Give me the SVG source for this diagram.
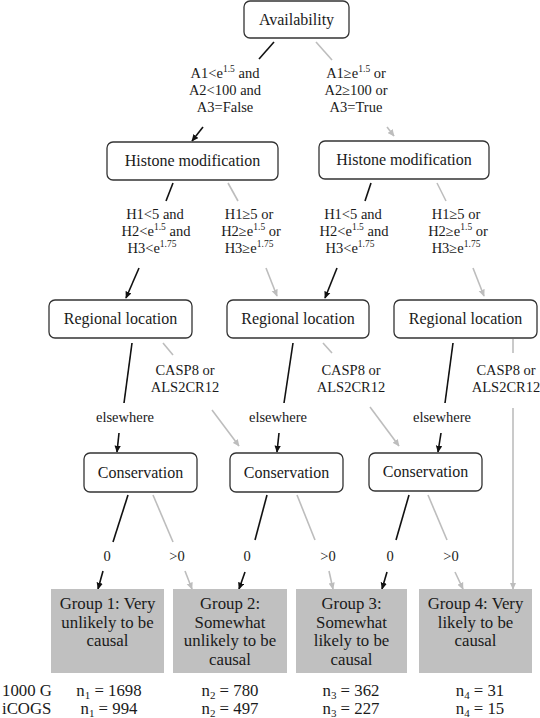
<svg xmlns="http://www.w3.org/2000/svg" width="540" height="718" viewBox="0 0 540 718" font-family="Liberation Serif">
<style>
.node{fill:#fff;stroke:#333;stroke-width:1.3}
.grp{fill:#c0c0c0;stroke:none}
.bk{stroke:#111;stroke-width:1.6;fill:none}
.gy{stroke:#bdbdbd;stroke-width:1.6;fill:none}
.bka{stroke:#111;stroke-width:1.6;fill:none;marker-end:url(#mb)}
.gya{stroke:#bdbdbd;stroke-width:1.6;fill:none;marker-end:url(#mg)}
</style>
<defs>
<marker id="mb" viewBox="0 0 10 10" refX="9" refY="5" markerWidth="7" markerHeight="7" orient="auto" markerUnits="userSpaceOnUse"><path d="M0,0.5 L10,5 L0,9.5 z" fill="#111"/></marker>
<marker id="mg" viewBox="0 0 10 10" refX="9" refY="5" markerWidth="7" markerHeight="7" orient="auto" markerUnits="userSpaceOnUse"><path d="M0,0.5 L10,5 L0,9.5 z" fill="#bdbdbd"/></marker>
</defs>
<g id="connectors">
<line class="bk" x1="274" y1="42" x2="259" y2="59"/>
<line class="gy" x1="316" y1="42" x2="332" y2="60"/>
<line class="bka" x1="203" y1="127" x2="192" y2="141"/>
<line class="gya" x1="387" y1="127" x2="394" y2="136"/>
<line class="bk" x1="173" y1="183" x2="166" y2="201"/>
<line class="gy" x1="228" y1="183" x2="238" y2="201"/>
<line class="bka" x1="139" y1="268" x2="126" y2="298"/>
<line class="gya" x1="266" y1="268" x2="277" y2="296"/>
<line class="bk" x1="371" y1="183" x2="365" y2="201"/>
<line class="gy" x1="437" y1="183" x2="446" y2="201"/>
<line class="bka" x1="337" y1="268" x2="325" y2="298"/>
<line class="gya" x1="473" y1="268" x2="484" y2="296"/>
<line class="bk" x1="132" y1="343" x2="124" y2="403"/>
<line class="bka" x1="119" y1="433" x2="117" y2="452"/>
<line class="gy" x1="163" y1="343" x2="173" y2="355"/>
<line class="gya" x1="212" y1="410" x2="239" y2="446"/>
<line class="bk" x1="293" y1="343" x2="284" y2="403"/>
<line class="bka" x1="279" y1="433" x2="277" y2="452"/>
<line class="gy" x1="323" y1="343" x2="332" y2="353"/>
<line class="gya" x1="370" y1="407" x2="399" y2="446"/>
<line class="bk" x1="453" y1="343" x2="445" y2="403"/>
<line class="bka" x1="441" y1="433" x2="438" y2="452"/>
<line class="gy" x1="513" y1="339" x2="513" y2="353"/>
<line class="gya" x1="513" y1="408" x2="513" y2="589"/>
<line class="bk" x1="128" y1="495" x2="113" y2="542"/>
<line class="bka" x1="103" y1="571" x2="98" y2="589"/>
<line class="gy" x1="153" y1="495" x2="173" y2="542"/>
<line class="gya" x1="185" y1="571" x2="192" y2="589"/>
<line class="bk" x1="267" y1="495" x2="255" y2="540"/>
<line class="bka" x1="245" y1="572" x2="239" y2="589"/>
<line class="gy" x1="297" y1="495" x2="315" y2="540"/>
<line class="gya" x1="329" y1="571" x2="333" y2="589"/>
<line class="bk" x1="409" y1="495" x2="396" y2="540"/>
<line class="bka" x1="387" y1="572" x2="382" y2="589"/>
<line class="gy" x1="428" y1="495" x2="447" y2="540"/>
<line class="gya" x1="455" y1="572" x2="463" y2="589"/>
</g>
<g id="edge-labels" font-family="Liberation Serif" font-size="14.5" fill="#1a1a1a" text-anchor="middle">
<text font-family="Liberation Serif" x="225" y="78">A1&lt;e<tspan font-size="9.5" dy="-6">1.5</tspan><tspan dy="6"> and</tspan></text>
<text font-family="Liberation Serif" x="225" y="95">A2&lt;100 and</text>
<text font-family="Liberation Serif" x="225" y="112">A3=False</text>
<text font-family="Liberation Serif" x="356" y="78">A1≥e<tspan font-size="9.5" dy="-6">1.5</tspan><tspan dy="6"> or</tspan></text>
<text font-family="Liberation Serif" x="356" y="95">A2≥100 or</text>
<text font-family="Liberation Serif" x="356" y="112">A3=True</text>
<text font-family="Liberation Serif" x="155" y="219">H1&lt;5 and</text>
<text font-family="Liberation Serif" x="156" y="236">H2&lt;e<tspan font-size="9.5" dy="-6">1.5</tspan><tspan dy="6"> and</tspan></text>
<text font-family="Liberation Serif" x="152" y="253">H3&lt;e<tspan font-size="9.5" dy="-6">1.75</tspan></text>
<text font-family="Liberation Serif" x="249" y="219">H1≥5 or</text>
<text font-family="Liberation Serif" x="251" y="236">H2≥e<tspan font-size="9.5" dy="-6">1.5</tspan><tspan dy="6"> or</tspan></text>
<text font-family="Liberation Serif" x="249" y="253">H3≥e<tspan font-size="9.5" dy="-6">1.75</tspan></text>
<text font-family="Liberation Serif" x="353" y="219">H1&lt;5 and</text>
<text font-family="Liberation Serif" x="354" y="236">H2&lt;e<tspan font-size="9.5" dy="-6">1.5</tspan><tspan dy="6"> and</tspan></text>
<text font-family="Liberation Serif" x="350" y="253">H3&lt;e<tspan font-size="9.5" dy="-6">1.75</tspan></text>
<text font-family="Liberation Serif" x="456" y="219">H1≥5 or</text>
<text font-family="Liberation Serif" x="458" y="236">H2≥e<tspan font-size="9.5" dy="-6">1.5</tspan><tspan dy="6"> or</tspan></text>
<text font-family="Liberation Serif" x="456" y="253">H3≥e<tspan font-size="9.5" dy="-6">1.75</tspan></text>
<text font-family="Liberation Serif" x="125" y="422">elsewhere</text>
<text font-family="Liberation Serif" x="185" y="375">CASP8 or</text>
<text font-family="Liberation Serif" x="185" y="392">ALS2CR12</text>
<text font-family="Liberation Serif" x="278" y="422">elsewhere</text>
<text font-family="Liberation Serif" x="351" y="375">CASP8 or</text>
<text font-family="Liberation Serif" x="351" y="392">ALS2CR12</text>
<text font-family="Liberation Serif" x="442" y="422">elsewhere</text>
<text font-family="Liberation Serif" x="506" y="375">CASP8 or</text>
<text font-family="Liberation Serif" x="506" y="392">ALS2CR12</text>
<text font-family="Liberation Serif" x="107" y="561">0</text>
<text font-family="Liberation Serif" x="177" y="561">&gt;0</text>
<text font-family="Liberation Serif" x="247" y="561">0</text>
<text font-family="Liberation Serif" x="328" y="561">&gt;0</text>
<text font-family="Liberation Serif" x="390" y="561">0</text>
<text font-family="Liberation Serif" x="451" y="561">&gt;0</text>
</g>
<g id="availability" font-size="16" fill="#1a1a1a" text-anchor="middle"><rect class="node" x="244" y="1" width="105" height="37" rx="6"/><text font-family="Liberation Serif" x="296.5" y="25">Availability</text></g>
<g id="histone-left" font-size="16" fill="#1a1a1a" text-anchor="middle"><rect class="node" x="107" y="142" width="171" height="38" rx="6"/><text font-family="Liberation Serif" x="192.5" y="166">Histone modification</text></g>
<g id="histone-right" font-size="16" fill="#1a1a1a" text-anchor="middle"><rect class="node" x="319" y="141" width="170" height="38" rx="6"/><text font-family="Liberation Serif" x="404" y="165">Histone modification</text></g>
<g id="regional-1" font-size="16" fill="#1a1a1a" text-anchor="middle"><rect class="node" x="49" y="300" width="143" height="38" rx="6"/><text font-family="Liberation Serif" x="120.5" y="324">Regional location</text></g>
<g id="regional-2" font-size="16" fill="#1a1a1a" text-anchor="middle"><rect class="node" x="227" y="300" width="142" height="38" rx="6"/><text font-family="Liberation Serif" x="298" y="324">Regional location</text></g>
<g id="regional-3" font-size="16" fill="#1a1a1a" text-anchor="middle"><rect class="node" x="394" y="300" width="143" height="38" rx="6"/><text font-family="Liberation Serif" x="465.5" y="324">Regional location</text></g>
<g id="conservation-1" font-size="16" fill="#1a1a1a" text-anchor="middle"><rect class="node" x="84" y="453" width="113" height="39" rx="6"/><text font-family="Liberation Serif" x="140.5" y="478">Conservation</text></g>
<g id="conservation-2" font-size="16" fill="#1a1a1a" text-anchor="middle"><rect class="node" x="230" y="453" width="113" height="39" rx="6"/><text font-family="Liberation Serif" x="286.5" y="478">Conservation</text></g>
<g id="conservation-3" font-size="16" fill="#1a1a1a" text-anchor="middle"><rect class="node" x="369" y="453" width="113" height="38" rx="6"/><text font-family="Liberation Serif" x="425.5" y="477">Conservation</text></g>
<g id="group-1" font-size="16.8" fill="#1a1a1a" text-anchor="middle"><rect class="grp" x="51" y="589" width="113" height="84"/>
<text font-family="Liberation Serif" x="107.5" y="609">Group 1: Very</text><text font-family="Liberation Serif" x="107.5" y="627.5">unlikely to be</text><text font-family="Liberation Serif" x="107.5" y="646">causal</text></g>
<g id="group-2" font-size="16.8" fill="#1a1a1a" text-anchor="middle"><rect class="grp" x="173" y="589" width="114" height="84"/>
<text font-family="Liberation Serif" x="230" y="609">Group 2:</text><text font-family="Liberation Serif" x="230" y="627.5">Somewhat</text><text font-family="Liberation Serif" x="230" y="646">unlikely to be</text><text font-family="Liberation Serif" x="230" y="664.5">causal</text></g>
<g id="group-3" font-size="16.8" fill="#1a1a1a" text-anchor="middle"><rect class="grp" x="296" y="589" width="111" height="84"/>
<text font-family="Liberation Serif" x="351.5" y="609">Group 3:</text><text font-family="Liberation Serif" x="351.5" y="627.5">Somewhat</text><text font-family="Liberation Serif" x="351.5" y="646">likely to be</text><text font-family="Liberation Serif" x="351.5" y="664.5">causal</text></g>
<g id="group-4" font-size="16.8" fill="#1a1a1a" text-anchor="middle"><rect class="grp" x="419" y="589" width="113" height="84"/>
<text font-family="Liberation Serif" x="475.5" y="609">Group 4: Very</text><text font-family="Liberation Serif" x="475.5" y="627.5">likely to be</text><text font-family="Liberation Serif" x="475.5" y="646">causal</text></g>
<g id="counts" font-size="16.8" fill="#1a1a1a" text-anchor="middle">
<text font-family="Liberation Serif" x="2" y="696" text-anchor="start">1000 G</text>
<text font-family="Liberation Serif" x="2" y="714" text-anchor="start">iCOGS</text>
<text font-family="Liberation Serif" x="109" y="696">n<tspan font-size="11" dy="2.5">1</tspan><tspan dy="-2.5"> = 1698</tspan></text>
<text font-family="Liberation Serif" x="109" y="714">n<tspan font-size="11" dy="2.5">1</tspan><tspan dy="-2.5"> = 994</tspan></text>
<text font-family="Liberation Serif" x="230" y="696">n<tspan font-size="11" dy="2.5">2</tspan><tspan dy="-2.5"> = 780</tspan></text>
<text font-family="Liberation Serif" x="230" y="714">n<tspan font-size="11" dy="2.5">2</tspan><tspan dy="-2.5"> = 497</tspan></text>
<text font-family="Liberation Serif" x="351" y="696">n<tspan font-size="11" dy="2.5">3</tspan><tspan dy="-2.5"> = 362</tspan></text>
<text font-family="Liberation Serif" x="351" y="714">n<tspan font-size="11" dy="2.5">3</tspan><tspan dy="-2.5"> = 227</tspan></text>
<text font-family="Liberation Serif" x="480" y="696">n<tspan font-size="11" dy="2.5">4</tspan><tspan dy="-2.5"> = 31</tspan></text>
<text font-family="Liberation Serif" x="480" y="714">n<tspan font-size="11" dy="2.5">4</tspan><tspan dy="-2.5"> = 15</tspan></text>
</g>
</svg>
